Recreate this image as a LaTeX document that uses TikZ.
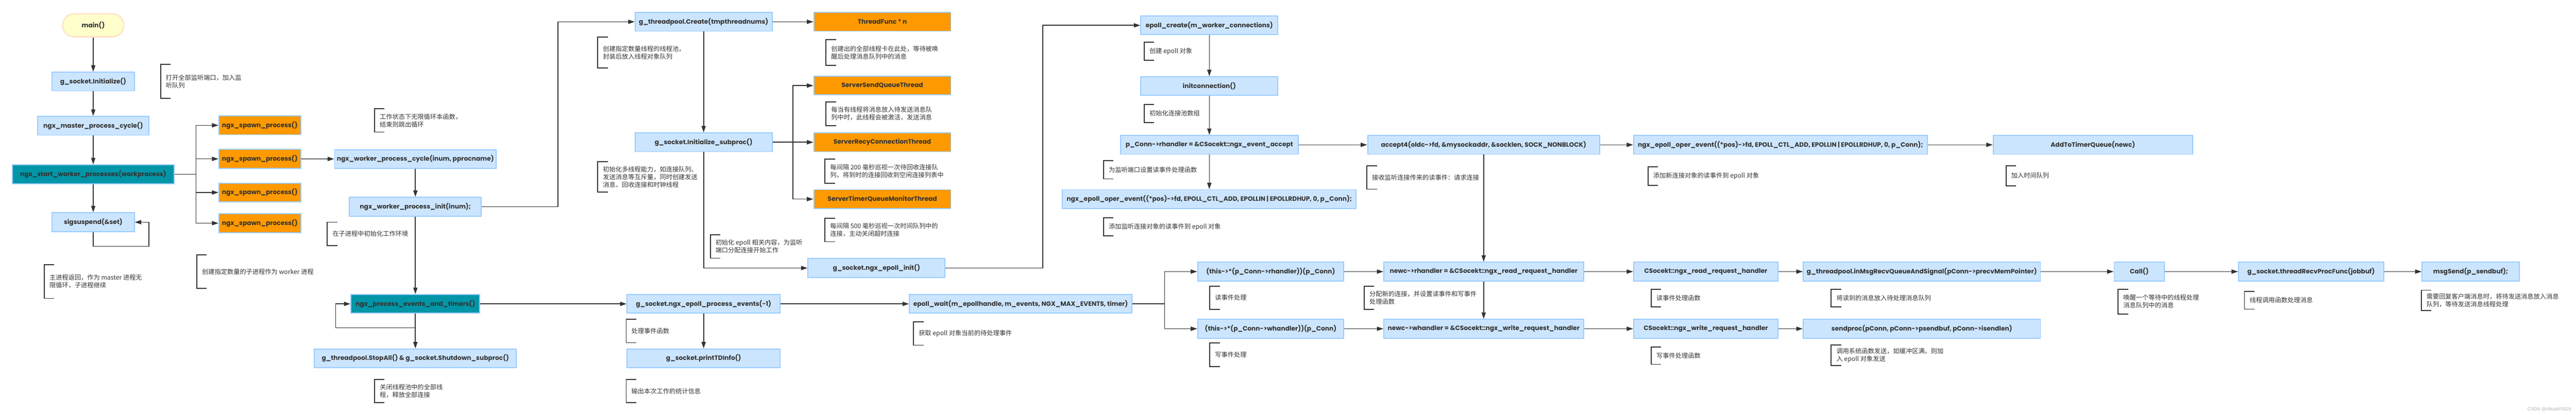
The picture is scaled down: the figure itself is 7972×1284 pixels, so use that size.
\documentclass[tikz,border=0pt]{standalone}
\usepackage{fontspec}
\usepackage{xcolor}
\usepackage{tikz}
\usetikzlibrary{arrows.meta}
\newfontfamily\cjk{Noto Sans CJK SC}
\newfontfamily\codefont{Poppins}
\newfontfamily\markfont{Liberation Sans}
\definecolor{boxfill}{RGB}{204,229,255}
\definecolor{boxline}{RGB}{153,204,255}
\definecolor{orangefill}{RGB}{255,153,0}
\definecolor{tealfill}{RGB}{0,150,167}
\definecolor{ink}{RGB}{51,51,51}
\definecolor{startfill}{RGB}{255,255,204}
\definecolor{startline}{RGB}{255,226,196}

\begin{document}
\begin{tikzpicture}[x=1pt,y=-1pt,>={Triangle[length=20pt,width=13pt]}]
\tikzstyle{block}=[rectangle,draw=boxline,line width=3pt,fill=boxfill,text=ink,font=\codefont\bfseries\fontsize{19.5pt}{24pt}\selectfont,minimum height=58pt,inner sep=0pt]
\tikzstyle{spawn}=[block,fill=orangefill]
\tikzstyle{hot}=[block,fill=tealfill]
\tikzstyle{note}=[anchor=west,align=left,inner sep=0pt,text=ink,font=\cjk\fontsize{19.5pt}{24pt}\selectfont]
\tikzstyle{link}=[->,draw=ink,line width=2.5pt]
\tikzstyle{bracket}=[draw=ink,line width=3pt]
\useasboundingbox (0,0) rectangle (7972,1284);

% master process
\node[block,fill=startfill,draw=startline,line width=4pt,rounded corners=35pt,minimum width=189pt,minimum height=71pt] (main) at (288.5,78.5) {main()};
\node[block,minimum width=256pt] (sockinit) at (288.5,252.5) {g\_socket.Initialize()};
\node[block,minimum width=344pt] (mastercyc) at (288.5,389.5) {ngx\_master\_process\_cycle()};
\node[hot,minimum width=500pt] (startwork) at (288.5,539.5) {ngx\_start\_worker\_processes(workprocess)};
\node[block,minimum width=254pt] (sigsusp) at (288.5,688) {sigsuspend(\&set)};
\node[spawn,minimum width=253pt] (spawn1) at (804,388) {ngx\_spawn\_process()};
\node[spawn,minimum width=253pt] (spawn2) at (804,492) {ngx\_spawn\_process()};
\node[spawn,minimum width=253pt] (spawn3) at (804,596) {ngx\_spawn\_process()};
\node[spawn,minimum width=253pt] (spawn4) at (804,691) {ngx\_spawn\_process()};

% worker process
\node[block,minimum width=500pt] (wcycle) at (1285.5,492.5) {ngx\_worker\_process\_cycle(inum, pprocname)};
\node[block,minimum width=408pt] (winit) at (1285.5,640) {ngx\_worker\_process\_init(inum);};
\node[hot,minimum width=399pt] (events) at (1285.5,941) {ngx\_process\_events\_and\_timers()};
\node[block,minimum width=625pt] (stopall) at (1285.5,1109.5) {g\_threadpool.StopAll() \& g\_socket.Shutdown\_subproc()};
\node[block,minimum width=424pt] (tpcreate) at (2177.5,67.5) {g\_threadpool.Create(tmpthreadnums)};
\node[block,minimum width=424pt] (subproc) at (2177.5,440.5) {g\_socket.Initialize\_subproc()};
\node[block,minimum width=474pt] (epollproc) at (2177.5,941) {g\_socket.ngx\_epoll\_process\_events(-1)};
\node[block,minimum width=474pt] (printinfo) at (2177.5,1109.5) {g\_socket.printTDInfo()};
\node[spawn,minimum width=424pt] (thfunc) at (2730.5,67.5) {ThreadFunc * n};
\node[spawn,minimum width=424pt] (sendq) at (2730.5,265) {ServerSendQueueThread};
\node[spawn,minimum width=424pt] (recyconn) at (2730.5,440.5) {ServerRecyConnectionThread};
\node[spawn,minimum width=424pt] (timermon) at (2730.5,616.5) {ServerTimerQueueMonitorThread};
\node[block,minimum width=424pt] (epollinit) at (2712.5,830) {g\_socket.ngx\_epoll\_init()};
\node[block,minimum width=688pt] (epollwait) at (3158.5,941) {epoll\_wait(m\_epollhandle, m\_events, NGX\_MAX\_EVENTS, timer)};

% epoll init
\node[block,minimum width=424pt] (epollcreate) at (3742.5,78.5) {epoll\_create(m\_worker\_connections)};
\node[block,minimum width=424pt] (initconn) at (3742.5,266.5) {initconnection()};
\node[block,minimum width=550pt] (rhaccept) at (3742.5,448.5) {p\_Conn->rhandler = \&CSocekt::ngx\_event\_accept};
\node[block,minimum width=909pt] (operev) at (3742.5,616.5) {ngx\_epoll\_oper\_event((*pos)->fd, EPOLL\_CTL\_ADD, EPOLLIN | EPOLLRDHUP, 0, p\_Conn);};
\node[block,minimum width=718pt] (accept4) at (4591.5,448.5) {accept4(oldc->fd, \&mysockaddr, \&socklen, SOCK\_NONBLOCK)};
\node[block,minimum width=909pt] (operevnew) at (5510,448.5) {ngx\_epoll\_oper\_event((*pos)->fd, EPOLL\_CTL\_ADD, EPOLLIN | EPOLLRDHUP, 0, p\_Conn);};
\node[block,minimum width=617pt] (addtimer) at (6477,448.5) {AddToTimerQueue(newc)};

% read / write events
\node[block,minimum width=452pt] (callr) at (3932.5,841) {(this->*(p\_Conn->rhandler))(p\_Conn)};
\node[block,minimum width=452pt] (callw) at (3932.5,1018) {(this->*(p\_Conn->whandler))(p\_Conn)};
\node[block,minimum width=618pt] (newcr) at (4591.5,841) {newc->rhandler = \&CSocekt::ngx\_read\_request\_handler};
\node[block,minimum width=618pt] (newcw) at (4591.5,1018) {newc->whandler = \&CSocekt::ngx\_write\_request\_handler};
\node[block,minimum width=447pt] (readh) at (5279,841) {CSocekt::ngx\_read\_request\_handler};
\node[block,minimum width=447pt] (writeh) at (5279,1018) {CSocekt::ngx\_write\_request\_handler};
\node[block,minimum width=734pt] (msgrecv) at (5947.5,841) {g\_threadpool.inMsgRecvQueueAndSignal(pConn->precvMemPointer)};
\node[block,minimum width=734pt] (sendproc) at (5947.5,1018) {sendproc(pConn, pConn->psendbuf, pConn->isendlen)};
\node[block,minimum width=156pt] (callbox) at (6620.5,841) {Call()};
\node[block,minimum width=449pt] (threadrecv) at (7152,841) {g\_socket.threadRecvProcFunc(jobbuf)};
\node[block,minimum width=301pt] (msgsend) at (7646,841) {msgSend(p\_sendbuf);};

% notes
\node[note] (n1) at (513,252) {打开全部监听端口，加入监\\听队列};
\node[note] (n2) at (153,871.5) {主进程返回，作为 master 进程无\\限循环，子进程继续};
\node[note] (n3) at (625,841) {创建指定数量的子进程作为 worker 进程};
\node[note] (n4) at (1175,373) {工作状态下无限循环本函数，\\结束则跳出循环};
\node[note] (n5) at (1029,724) {在子进程中初始化工作环境};
\node[note] (n6) at (1175,1211) {关闭线程池中的全部线\\程，释放全部连接};
\node[note] (n7) at (1866,163) {创建指定数量线程的线程池，\\封装后放入线程对象队列};
\node[note] (n8) at (1866,548) {初始化多线程能力，如连接队列、\\发送消息等互斥量，同时创建发送\\消息、回收连接和时钟线程};
\node[note] (n9) at (1954,1025) {处理事件函数};
\node[note] (n10) at (1954,1211) {输出本次工作的统计信息};
\node[note] (n11) at (2572,163) {创建出的全部线程卡在此处，等待被唤\\醒后处理消息队列中的消息};
\node[note] (n12) at (2572,352) {每当有线程将消息放入待发送消息队\\列中时，此线程会被激活，发送消息};
\node[note] (n13) at (2569,530) {每间隔 200 毫秒巡视一次待回收连接队\\列，将到时的连接回收到空闲连接列表中};
\node[note] (n14) at (2569,712) {每间隔 500 毫秒巡视一次时间队列中的\\连接，主动关闭超时连接};
\node[note] (n15) at (2214,763) {初始化 epoll 相关内容，为监听\\端口分配连接开始工作};
\node[note] (n16) at (2843,1033) {获取 epoll 对象当前的待处理事件};
\node[note] (n17) at (3557,159) {创建 epoll 对象};
\node[note] (n18) at (3557,351) {初始化连接池数组};
\node[note] (n19) at (3431,526) {为监听端口设置读事件处理函数};
\node[note] (n20) at (3431,702) {添加监听连接对象的读事件到 epoll 对象};
\node[note] (n21) at (4246,550) {接收监听连接传来的读事件：请求连接};
\node[note] (n22) at (4238,922) {分配新的连接，并设置读事件和写事件\\处理函数};
\node[note] (n23) at (3760,922) {读事件处理};
\node[note] (n24) at (3760,1098) {写事件处理};
\node[note] (n25) at (5116,545) {添加新连接对象的读事件到 epoll 对象};
\node[note] (n26) at (6224,544) {加入时间队列};
\node[note] (n27) at (5126,923) {读事件处理函数};
\node[note] (n28) at (5126,1101) {写事件处理函数};
\node[note] (n29) at (5683,923) {将读到的消息放入待处理消息队列};
\node[note] (n30) at (5683,1100) {调用系统函数发送，如缓冲区满，则加\\入 epoll 对象发送};
\node[note] (n31) at (6571,934) {唤醒一个等待中的线程处理\\消息队列中的消息};
\node[note] (n32) at (6962,930) {线程调用函数处理消息};
\node[note] (n33) at (7509,930) {需要回复客户端消息时，将待发送消息放入消息\\队列，等待发送消息线程处理};
\foreach \n/\h in {n1/106,n2/105,n3/104,n4/72,n5/72,n6/72,n7/96,n8/94,n9/72,n10/72,n11/80,n12/74,n13/74,n14/73,n15/73,n16/72,n17/56,n18/56,n19/56,n20/56,n21/72,n22/72,n23/72,n24/73,n25/57,n26/62,n27/54,n28/54,n29/54,n30/63,n31/76,n32/55,n33/63}
  \draw[bracket] ([shift={(15,-\h/2)}]\n.west) -- ++(-31,0) -- ++(0,\h) -- ++(31,0);
\node[anchor=east,inner sep=0pt,text=black!30,font=\markfont\fontsize{14pt}{16pt}\selectfont] (mark) at (7957,1268) {CSDN @Alkaid\#3529};

% connectors
\draw[link] (main) -- (sockinit);
\draw[link] (sockinit) -- (mastercyc);
\draw[link] (mastercyc) -- (startwork);
\draw[link] (startwork) -- (sigsusp);
\coordinate (loopS) at (461,763);
\draw[link] (sigsusp.south) |- (loopS) |- (sigsusp.east);
\coordinate (fork1) at (607,539.5);
\foreach \s in {spawn1,spawn2,spawn3,spawn4}
  \draw[link] (startwork.east) -- (fork1) |- (\s.west);
\draw[link] (spawn2) -- (wcycle);
\draw[link] (wcycle) -- (winit);
\draw[link] (winit) -- (events);
\coordinate (loopE) at (1039,1015);
\draw[link] (events.south) |- (loopE) |- (events.west);
\draw[link] (events) -- (stopall);
\coordinate (bendA) at (1727,640);
\draw[link] (winit.east) -- (bendA) |- (tpcreate.west);
\draw[link] (tpcreate) -- (thfunc);
\draw[link] (tpcreate) -- (subproc);
\coordinate (fork2) at (2454,440.5);
\foreach \s in {sendq,recyconn,timermon}
  \draw[link] (subproc.east) -- (fork2) |- (\s.west);
\draw[link] (subproc.south) |- (epollinit.west);
\draw[link] (events) -- (epollproc);
\draw[link] (epollproc) -- (printinfo);
\draw[link] (epollproc) -- (epollwait);
\coordinate (bendB) at (3227,830);
\draw[link] (epollinit.east) -- (bendB) |- (epollcreate.west);
\draw[link] (epollcreate) -- (initconn);
\draw[link] (initconn) -- (rhaccept);
\draw[link] (rhaccept) -- (operev);
\draw[link] (rhaccept) -- (accept4);
\draw[link] (accept4) -- (operevnew);
\draw[link] (operevnew) -- (addtimer);
\draw[link] (accept4) -- (newcr);
\draw[link] (newcr) -- (newcw);
\coordinate (fork3) at (3604,941);
\foreach \s in {callr,callw}
  \draw[link] (epollwait.east) -- (fork3) |- (\s.west);
\draw[link] (callr) -- (newcr);
\draw[link] (callw) -- (newcw);
\draw[link] (newcr) -- (readh);
\draw[link] (newcw) -- (writeh);
\draw[link] (readh) -- (msgrecv);
\draw[link] (writeh) -- (sendproc);
\draw[link] (msgrecv) -- (callbox);
\draw[link] (callbox) -- (threadrecv);
\draw[link] (threadrecv) -- (msgsend);
\end{tikzpicture}
\end{document}
